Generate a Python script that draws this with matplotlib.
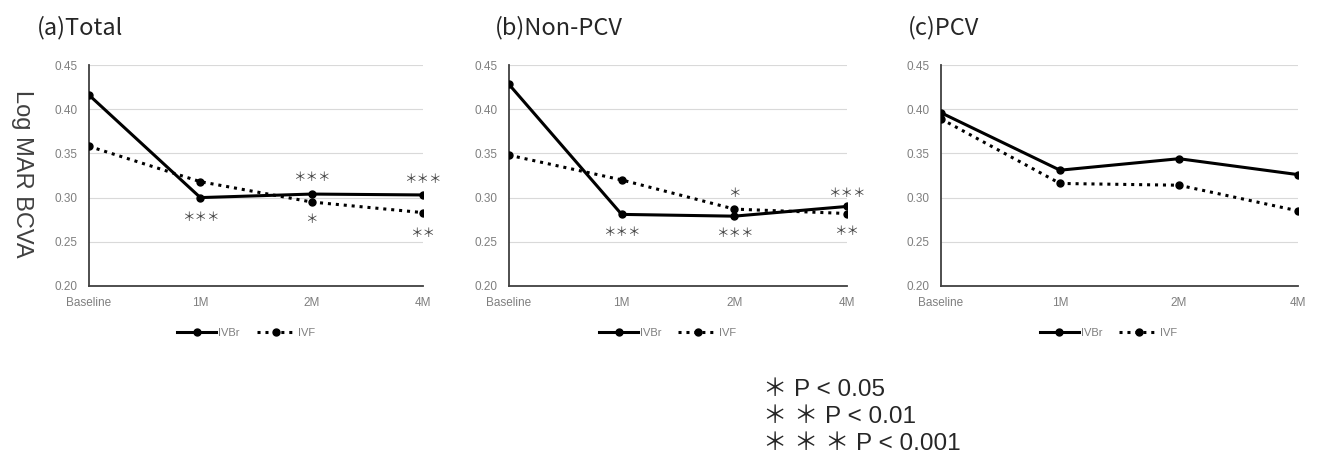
import matplotlib.pyplot as plt

plt.rcParams['font.family'] = ['Liberation Sans', 'Noto Sans CJK JP', 'DejaVu Sans']

times = ["Baseline", "1M", "2M", "4M"]

total_ivbr = [0.416, 0.300, 0.304, 0.303]
total_ivf = [0.358, 0.318, 0.295, 0.283]
nonpcv_ivbr = [0.428, 0.281, 0.279, 0.290]
nonpcv_ivf = [0.348, 0.320, 0.287, 0.282]
pcv_ivbr = [0.396, 0.331, 0.344, 0.326]
pcv_ivf = [0.389, 0.316, 0.314, 0.285]

titles = ["(a)Total", "(b)Non-PCV", "(c)PCV"]

# significance marks: (x index, y value, text)
total_marks = [(1, 0.277, "＊＊＊"), (2, 0.323, "＊＊＊"), (2, 0.275, "＊"),
               (3, 0.320, "＊＊＊"), (3, 0.259, "＊＊")]
nonpcv_marks = [(1, 0.261, "＊＊＊"), (2, 0.305, "＊"), (2, 0.259, "＊＊＊"),
                (3, 0.305, "＊＊＊"), (3, 0.262, "＊＊")]
pcv_marks = []

fig = plt.figure(figsize=(13.17, 4.69), dpi=100)

boxes = [(0.0676, 0.3902, 0.2536, 0.4712),
         (0.3865, 0.3902, 0.2566, 0.4712),
         (0.7145, 0.3902, 0.2711, 0.4712)]
title_x = [0.028, 0.376, 0.689]
data = [(total_ivbr, total_ivf, total_marks),
        (nonpcv_ivbr, nonpcv_ivf, nonpcv_marks),
        (pcv_ivbr, pcv_ivf, pcv_marks)]

x = range(len(times))
for box, tx, title, (ivbr, ivf, marks) in zip(boxes, title_x, titles, data):
    ax = fig.add_axes(box)
    ax.plot(x, ivbr, color='black', lw=2.2, marker='o', ms=5, label='IVBr', zorder=3)
    ax.plot(x, ivf, color='black', lw=2.2, ls=(0, (1, 1.6)), marker='o', ms=5,
            label='IVF', zorder=3)
    ax.set_xlim(0, 3)
    ax.set_ylim(0.20, 0.45)
    ax.set_yticks([0.20, 0.25, 0.30, 0.35, 0.40, 0.45])
    ax.set_yticklabels(["%.2f" % v for v in ax.get_yticks()])
    ax.set_xticks(list(x))
    ax.set_xticklabels(times)
    ax.tick_params(length=0, labelsize=8.5, colors='#7f7f7f', pad=8)
    ax.grid(axis='y', color='#d9d9d9', lw=0.8)
    ax.set_axisbelow(True)
    for s in ['top', 'right']:
        ax.spines[s].set_visible(False)
    ax.spines['left'].set_color('#404040')
    ax.spines['bottom'].set_color('#404040')
    ax.spines['left'].set_linewidth(1.3)
    ax.spines['bottom'].set_linewidth(1.3)
    for mx, my, mt in marks:
        ax.text(mx, my, mt, ha='center', va='center', fontsize=9, color='#404040',
                family=['Noto Sans CJK JP'])
    leg = ax.legend(loc='upper center', bbox_to_anchor=(0.47, -0.145), ncol=2,
                    frameon=False, fontsize=8, handlelength=3.5,
                    handletextpad=0.2, columnspacing=1.5)
    for t in leg.get_texts():
        t.set_color('#7f7f7f')
    fig.text(tx, 0.942, title, fontsize=17, color='#262626', va='center', ha='left',
             family=['Noto Sans CJK JP'])

fig.text(0.0167, 0.629, "Log MAR BCVA", rotation=270, fontsize=17, color='#404040',
         va='center', ha='center')

sig_lines = ["＊ P < 0.05", "＊ ＊ P < 0.01", "＊ ＊ ＊ P < 0.001"]
for i, s in enumerate(sig_lines):
    fig.text(0.579, 1 - (390 + 27 * i) / 469, s, fontsize=17.5, color='#262626',
             va='center', ha='left')

fig.savefig("out.png", dpi=100)
